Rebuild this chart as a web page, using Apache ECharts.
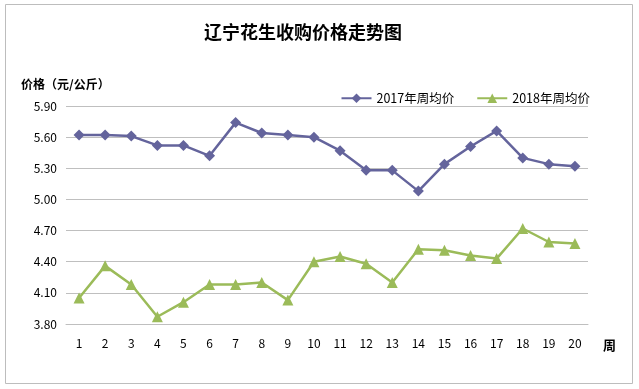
<!DOCTYPE html>
<html><head><meta charset="utf-8">
<script src="https://cdn.jsdelivr.net/npm/echarts@6/dist/echarts.min.js"></script>
<style>html,body{margin:0;padding:0;background:#fff}#c{width:639px;height:389px}</style>
</head><body><div id="c"></div>
<script>
const weeks = ['1','2','3','4','5','6','7','8','9','10','11','12','13','14','15','16','17','18','19','20'];
const price2017 = [5.62,5.62,5.61,5.52,5.52,5.42,5.74,5.64,5.62,5.60,5.47,5.28,5.28,5.08,5.34,5.51,5.66,5.40,5.34,5.32];
const price2018 = [4.05,4.36,4.18,3.87,4.01,4.18,4.18,4.20,4.03,4.40,4.45,4.38,4.20,4.52,4.51,4.46,4.43,4.72,4.59,4.575];
const yTicks = [3.8,4.1,4.4,4.7,5.0,5.3,5.6,5.9];
const name2017 = '2017年周均价', name2018 = '2018年周均价';
const c2017 = '#64649c', c2018 = '#9bbb59';
const font = '"Noto Sans CJK SC", sans-serif';
const chart = echarts.init(document.getElementById('c'));
chart.setOption({
  animation:false,
  backgroundColor:'#fff',
  title:{text:'辽宁花生收购价格走势图', left:298, top:18, textAlign:'center',
    textStyle:{fontFamily:font, fontSize:18, fontWeight:'bold', color:'#000'}},
  graphic:[
    {type:'rect', shape:{x:5.5,y:4.5,width:627,height:379}, style:{fill:null, stroke:'#bdbdbd', lineWidth:1}, silent:true},
    {type:'text', left:21, top:78, style:{text:'价格（元/公斤）', font:'bold 12px '+font, fill:'#000'}},
    {type:'text', left:603, top:339, style:{text:'周', font:'bold 13px '+font, fill:'#000'}}
  ],
  legend:{right:44, top:87, itemGap:22, itemWidth:30, itemHeight:12,
    textStyle:{fontFamily:font, fontSize:12.5, color:'#000'},
    data:[{name:name2017},{name:name2018}]},
  grid:{left:66, right:51, top:106, bottom:65},
  xAxis:{type:'category', data:weeks, boundaryGap:true,
    axisLine:{show:true, lineStyle:{color:'#bfbfbf'}}, axisTick:{show:false},
    axisLabel:{margin:13, fontFamily:font, fontSize:12, color:'#000'}},
  yAxis:{type:'value', min:3.8, max:5.9,
    axisLine:{show:false}, axisTick:{show:false, customValues:yTicks},
    splitLine:{show:true, lineStyle:{color:'#bfbfbf', width:1}},
    axisLabel:{customValues:yTicks, margin:9, fontFamily:font, fontSize:12, color:'#000',
      formatter:v=>v.toFixed(2)}},
  series:[
    {name:name2017, type:'line', data:price2017, symbol:'diamond', symbolSize:11,
      lineStyle:{color:c2017, width:2.5}, itemStyle:{color:c2017}},
    {name:name2018, type:'line', data:price2018, symbol:'triangle', symbolSize:11,
      lineStyle:{color:c2018, width:2.5}, itemStyle:{color:c2018}}
  ]
});
</script></body></html>
